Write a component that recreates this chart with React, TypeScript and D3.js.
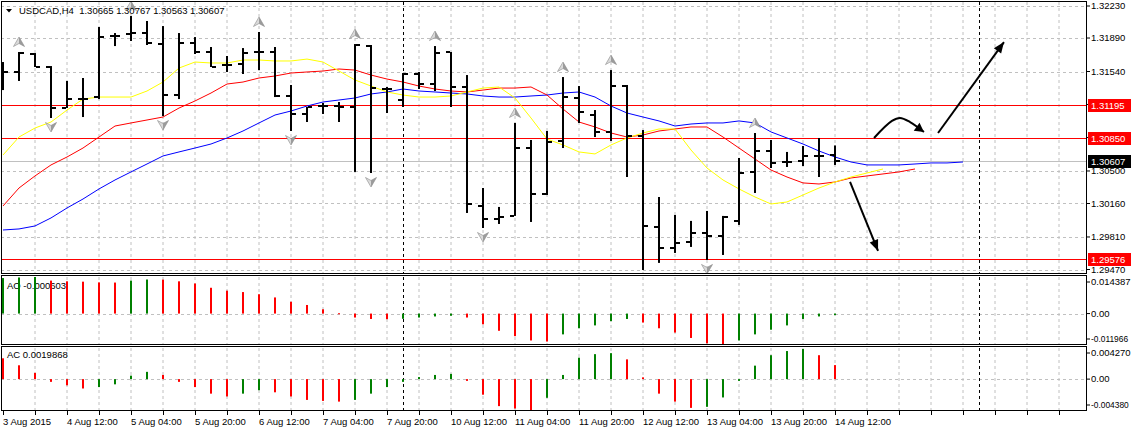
import React from 'react';
import * as d3 from 'd3';

// USDCAD H4, 3 Aug 20:00 .. 14 Aug 12:00 2015
const symbol = 'USDCAD,H4';
const lastQuote = ['1.30665', '1.30767', '1.30563', '1.30607'];

const opens = [
  1.31535, 1.31535, 1.31723, 1.31587, 1.31158, 1.31252, 1.31273, 1.31911, 1.31932, 1.31942,
  1.31827, 1.31294, 1.31838, 1.31744, 1.31608, 1.31618, 1.31744, 1.31744, 1.31284, 1.31096,
  1.31179, 1.31179, 1.31169, 1.31806, 1.31357, 1.31242, 1.31514, 1.31409, 1.31744, 1.31378,
  1.30134, 1.29998, 1.30030, 1.30740, 1.30260, 1.30814, 1.31263, 1.31085, 1.30908, 1.31388,
  1.30866, 1.29915, 1.29695, 1.29758, 1.29852, 1.29821, 1.29978, 1.30490, 1.30709, 1.30594,
  1.30605, 1.30657, 1.30665,
];
const highs = [
  1.31639, 1.31744, 1.31733, 1.31597, 1.31441, 1.31472, 1.32005, 1.31942, 1.32120, 1.32068,
  1.32015, 1.31942, 1.31900, 1.31796, 1.31702, 1.31785, 1.31953, 1.31796, 1.31399, 1.31169,
  1.31211, 1.31221, 1.31827, 1.31817, 1.31378, 1.31524, 1.31535, 1.31806, 1.31744, 1.31503,
  1.30322, 1.30124, 1.31002, 1.30824, 1.30918, 1.31482, 1.31388, 1.31137, 1.31555, 1.31399,
  1.30928, 1.30228, 1.30040, 1.29978, 1.30082, 1.30030, 1.30636, 1.30897, 1.30824, 1.30699,
  1.30761, 1.30845, 1.30767,
];
const lows = [
  1.31346, 1.31441, 1.31587, 1.31054, 1.31158, 1.31064, 1.31252, 1.31806, 1.31859, 1.31817,
  1.31075, 1.31252, 1.31723, 1.31587, 1.31535, 1.31514, 1.31555, 1.31273, 1.30918, 1.31012,
  1.31096, 1.31012, 1.30490, 1.30479, 1.31106, 1.31169, 1.31357, 1.31336, 1.31169, 1.30061,
  1.29904, 1.29946, 1.30030, 1.29967, 1.30249, 1.30740, 1.31002, 1.30855, 1.30814, 1.30437,
  1.29465, 1.29539, 1.29643, 1.29706, 1.29570, 1.29622, 1.29936, 1.30270, 1.30531, 1.30542,
  1.30552, 1.30437, 1.30563,
];
const closes = [
  1.31535, 1.31733, 1.31587, 1.31158, 1.31252, 1.31252, 1.31900, 1.31911, 1.31942, 1.31838,
  1.31294, 1.31838, 1.31744, 1.31587, 1.31608, 1.31733, 1.31744, 1.31284, 1.31096, 1.31169,
  1.31179, 1.31169, 1.31817, 1.31367, 1.31357, 1.31514, 1.31409, 1.31733, 1.31378, 1.30155,
  1.29998, 1.30019, 1.30740, 1.30260, 1.30803, 1.31273, 1.31117, 1.30908, 1.31388, 1.30866,
  1.29925, 1.29695, 1.29748, 1.29852, 1.29821, 1.30019, 1.30479, 1.30709, 1.30584, 1.30594,
  1.30657, 1.30657, 1.30607,
];

// Alligator lines as plotted (already shifted forward)
const lips = [
  1.30667, 1.30855, 1.30949, 1.31012, 1.31137, 1.31252, 1.31273, 1.31273, 1.31273, 1.31336,
  1.31430, 1.31576, 1.31639, 1.31629, 1.31629, 1.31660, 1.31660, 1.31650, 1.31650, 1.31670,
  1.31639, 1.31545, 1.31451, 1.31388, 1.31326, 1.31294, 1.31273, 1.31273, 1.31284, 1.31326,
  1.31367, 1.31378, 1.31263, 1.31054, 1.30834, 1.30772, 1.30699, 1.30678, 1.30772, 1.30845,
  1.30897, 1.30939, 1.30939, 1.30719, 1.30531, 1.30406, 1.30312, 1.30228, 1.30155, 1.30176,
  1.30249, 1.30322, 1.30385, 1.30437, 1.30479, 1.30521,
];
const teeth = [
  1.30134, 1.30322, 1.30448, 1.30563, 1.30646, 1.30740, 1.30855, 1.30970, 1.31002, 1.31033,
  1.31064, 1.31158, 1.31232, 1.31315, 1.31409, 1.31430, 1.31472, 1.31493, 1.31524, 1.31535,
  1.31545, 1.31566, 1.31555, 1.31503, 1.31461, 1.31430, 1.31388, 1.31357, 1.31336, 1.31326,
  1.31346, 1.31367, 1.31367, 1.31378, 1.31294, 1.31148, 1.31012, 1.30960, 1.30897, 1.30855,
  1.30876, 1.30918, 1.30939, 1.30960, 1.30960, 1.30855, 1.30740, 1.30625, 1.30510, 1.30437,
  1.30375, 1.30364, 1.30385, 1.30427, 1.30448, 1.30469, 1.30490, 1.30521,
];
const jaw = [
  1.29883, 1.29894, 1.29925, 1.30009, 1.30113, 1.30207, 1.30312, 1.30406, 1.30490, 1.30573,
  1.30657, 1.30699, 1.30740, 1.30782, 1.30845, 1.30918, 1.31002, 1.31085, 1.31127, 1.31179,
  1.31221, 1.31242, 1.31263, 1.31305, 1.31326, 1.31357, 1.31336, 1.31326, 1.31315, 1.31305,
  1.31284, 1.31273, 1.31273, 1.31284, 1.31294, 1.31315, 1.31326, 1.31273, 1.31179, 1.31106,
  1.31064, 1.31023, 1.30970, 1.30991, 1.31002, 1.31002, 1.31023, 1.31002, 1.30908, 1.30845,
  1.30782, 1.30709, 1.30646, 1.30594, 1.30563, 1.30563, 1.30563, 1.30573, 1.30584, 1.30584,
  1.30594,
];

const upFractals = [1, 8, 16, 22, 27, 32, 35, 38, 47];
const downFractals = [3, 10, 18, 23, 30, 40, 44];

const levels = [1.31195, 1.3085, 1.29576];
const currentPrice = 1.30607;
const priceTicks = [1.3223, 1.3189, 1.3154, 1.31195, 1.3085, 1.305, 1.3016, 1.2981, 1.2947];
const priceRange = [1.2947, 1.3223];

const aoBefore = 0.0132;
const aoValues = [
  0.01396, 0.0142, 0.01439, 0.01297, 0.01269, 0.01255, 0.01227, 0.0122, 0.01297, 0.0134,
  0.01335, 0.01269, 0.01184, 0.01015, 0.00902, 0.00846, 0.00761, 0.00635, 0.00465, 0.00338,
  0.00169, 0.00014, -0.00155, -0.00212, -0.0022, -0.00205, -0.00155, -0.00113, -0.00085, -0.00155,
  -0.00423, -0.00677, -0.00888, -0.01058, -0.011, -0.00818, -0.00578, -0.00465, -0.00296, -0.00212,
  -0.00353, -0.00578, -0.00747, -0.00959, -0.0117, -0.011966, -0.01058, -0.00818, -0.00635, -0.00465,
  -0.00212, -0.00113, -0.000603,
];
const aoRange = [-0.011966, 0.014387];

const acBefore = 0.0035;
const acValues = [
  0.00295, 0.00196, 0.00088, -0.00039, -0.00088, -0.00133, -0.00113, -0.00074, 0.00049, 0.00103,
  0.00059, -0.00039, -0.00113, -0.00206, -0.00246, -0.00206, -0.00157, -0.00187, -0.00246, -0.00295,
  -0.00309, -0.00319, -0.00295, -0.00206, -0.00113, -0.00039, 0.00029, 0.00059, 0.00074, -0.00025,
  -0.00221, -0.00383, -0.00417, -0.00438, -0.00265, 0.00059, 0.00304, 0.00354, 0.00368, 0.0028,
  0.00025, -0.00206, -0.00319, -0.00408, -0.00393, -0.0026, -0.00025, 0.00191, 0.00339, 0.00398,
  0.00427, 0.00339, 0.0019868,
];
const acRange = [-0.00438, 0.00427];

const timeLabels = [
  '3 Aug 2015', '4 Aug 12:00', '5 Aug 04:00', '5 Aug 20:00', '6 Aug 12:00', '7 Aug 04:00',
  '7 Aug 20:00', '10 Aug 12:00', '11 Aug 04:00', '11 Aug 20:00', '12 Aug 12:00',
  '13 Aug 04:00', '13 Aug 20:00', '14 Aug 12:00',
];
const separators = [25, 61];

// hand drawn scenario arrows, [bar, price]
const arrowUp: [number, number][] = [[58.44, 1.30897], [62.56, 1.31848]];
const arrowHook: [number, number][] = [[54.44, 1.30845], [55.56, 1.31023], [56.06, 1.31054], [56.69, 1.31012], [57.56, 1.30908]];
const arrowDown: [number, number][] = [[52.94, 1.30385], [54.69, 1.29664]];

const W = 1131;
const H = 430;
const L = 1;
const R = 1086;
const FONT = "Tahoma, 'Liberation Sans', Arial, sans-serif";
const GREEN = '#008000';
const RED = '#ff0000';

const x = d3.scaleLinear().domain([0, 52]).range([3, 835]);
const y = d3.scaleLinear().domain(priceRange).range([269.5, 5.5]);
const yAO = d3.scaleLinear().domain(aoRange).range([344, 277]);
const yAC = d3.scaleLinear().domain(acRange).range([410, 349]);

function headPath(p0: number[], p1: number[], len = 10, half = 4.5) {
  const dx = p1[0] - p0[0];
  const dy = p1[1] - p0[1];
  const d = Math.hypot(dx, dy);
  const ux = dx / d;
  const uy = dy / d;
  const bx = p1[0] - ux * len;
  const by = p1[1] - uy * len;
  return `M${p1[0]},${p1[1]}L${bx - uy * half},${by + ux * half}L${bx + uy * half},${by - ux * half}Z`;
}

function HandArrow({ pts, curved }: { pts: [number, number][]; curved?: boolean }) {
  const px = pts.map(([b, p]) => [x(b), y(p)] as [number, number]);
  const line = d3.line().curve(curved ? d3.curveCatmullRom : d3.curveLinear);
  const n = px.length;
  return (
    <g>
      <path d={line(px) || ''} fill="none" stroke="#000" strokeWidth={2} />
      <path d={headPath(px[n - 2], px[n - 1], curved ? 9 : 11, curved ? 5 : 4.5)} fill="#000" />
    </g>
  );
}

function Fractal({ cx, cy, up }: { cx: number; cy: number; up: boolean }) {
  const s = up ? 1 : -1;
  return (
    <g transform={`translate(${cx},${cy}) scale(1,${s})`}>
      <path d="M0,-5 L5.5,4.5 L0,1.5 Z" fill="#9c9c9c" />
      <path d="M0,-5 L-5.5,4.5 L0,1.5 Z" fill="#dadada" />
      <path d="M0,-5 L5.5,4.5 L0,1.5 L-5.5,4.5 Z" fill="none" stroke="#8a8a8a" strokeWidth={0.6} />
    </g>
  );
}

export default function App() {
  const gridX = d3.range(2, 67, 2).map((i) => x(i));
  const lineGen = d3
    .line<number>()
    .x((_, i) => x(i))
    .y((d) => y(d));

  const panels = [
    { top: 2, bottom: 273 },
    { top: 277, bottom: 344 },
    { top: 348, bottom: 410 },
  ];

  const histo = (vals: number[], before: number, sc: d3.ScaleLinear<number, number>) =>
    vals.map((v, i) => {
      const prev = i === 0 ? before : vals[i - 1];
      const y0 = sc(0);
      const y1 = sc(v);
      return (
        <rect
          key={i}
          x={x(i) - 1}
          y={Math.min(y0, y1)}
          width={2}
          height={Math.max(1, Math.abs(y1 - y0))}
          fill={v > prev ? GREEN : RED}
        />
      );
    });

  const sideLabel = (
    v: number,
    txt: string,
    top: number,
    bottom: number,
    sc: (n: number) => number,
    fs = 9.5
  ) => {
    const yy = Math.max(top + 6, Math.min(bottom - 6, sc(v)));
    return (
      <g key={txt}>
        <line x1={R} x2={R + 4} y1={yy} y2={yy} stroke="#000" />
        <text x={R + 5} y={yy} dy="0.35em" fontSize={fs} fill="#000">
          {txt}
        </text>
      </g>
    );
  };

  return (
    <svg
      width={W}
      height={H}
      style={{ position: 'absolute', left: 0, top: 0, fontFamily: FONT }}
    >
      <defs>
        <clipPath id="mainClip">
          <rect x={L + 1} y={2} width={R - L - 1} height={271} />
        </clipPath>
      </defs>
      <rect width={W} height={H} fill="#fff" />

      {/* grid */}
      {panels.map((p, k) =>
        gridX.map((gx, i) => (
          <line key={`g${k}-${i}`} x1={gx} x2={gx} y1={p.top} y2={p.bottom} stroke="#c0c0c0" strokeDasharray="3,3" />
        ))
      )}
      {priceTicks.map((t, i) => (
        <line key={`h${i}`} x1={L} x2={R} y1={Math.round(y(t)) + 0.5} y2={Math.round(y(t)) + 0.5} stroke="#c0c0c0" strokeDasharray="3,3" />
      ))}
      <line x1={L} x2={R} y1={Math.round(yAO(0)) + 0.5} y2={Math.round(yAO(0)) + 0.5} stroke="#c0c0c0" strokeDasharray="3,3" />
      <line x1={L} x2={R} y1={Math.round(yAC(0)) + 0.5} y2={Math.round(yAC(0)) + 0.5} stroke="#c0c0c0" strokeDasharray="3,3" />

      {/* period separators */}
      {separators.map((s) =>
        panels.map((p, k) => (
          <line key={`s${s}-${k}`} x1={x(s) + 0.5} x2={x(s) + 0.5} y1={p.top} y2={p.bottom} stroke="#000" strokeDasharray="3,3" />
        ))
      )}

      <g clipPath="url(#mainClip)">
        {/* horizontal levels */}
        <line x1={L} x2={R} y1={Math.round(y(currentPrice)) + 0.5} y2={Math.round(y(currentPrice)) + 0.5} stroke="#c0c0c0" />
        {levels.map((lv) => (
          <line key={lv} x1={L} x2={R} y1={Math.round(y(lv)) + 0.5} y2={Math.round(y(lv)) + 0.5} stroke={RED} />
        ))}

        {/* alligator */}
        <path d={lineGen(jaw) || ''} fill="none" stroke="#0000ff" strokeWidth={1} />
        <path d={lineGen(teeth) || ''} fill="none" stroke={RED} strokeWidth={1} />
        <path d={lineGen(lips) || ''} fill="none" stroke="#ffff00" strokeWidth={1} />

        {/* OHLC bars */}
        {opens.map((o, i) => {
          const cx = x(i);
          return (
            <g key={`b${i}`} fill="#000">
              <rect x={cx - 1} y={y(highs[i])} width={2} height={Math.max(1, y(lows[i]) - y(highs[i]))} />
              <rect x={cx - 5} y={Math.round(y(o)) - 1} width={4} height={2} />
              <rect x={cx + 1} y={Math.round(y(closes[i])) - 1} width={4} height={2} />
            </g>
          );
        })}

        {upFractals.map((i) => (
          <Fractal key={`u${i}`} cx={x(i)} cy={y(highs[i]) - 10} up />
        ))}
        {downFractals.map((i) => (
          <Fractal key={`d${i}`} cx={x(i)} cy={y(lows[i]) + 9} up={false} />
        ))}

        <HandArrow pts={arrowUp} />
        <HandArrow pts={arrowHook} curved />
        <HandArrow pts={arrowDown} />
      </g>

      {/* header */}
      <path d="M6,9 L12,9 L9,12.5 Z" fill="#000" />
      <text x={19} y={14} fontSize={9.5} fill="#000" style={{ whiteSpace: 'pre' }}>
        {`${symbol}  ${lastQuote.join(' ')}`}
      </text>

      {/* oscillators */}
      <text x={7} y={289} fontSize={9.5} fill="#000">{`AO ${aoValues[aoValues.length - 1].toFixed(6)}`}</text>
      {histo(aoValues, aoBefore, yAO)}
      <text x={7} y={358} fontSize={9.5} fill="#000">{`AC ${acValues[acValues.length - 1].toFixed(7)}`}</text>
      {histo(acValues, acBefore, yAC)}

      {/* frames */}
      <rect x={L + 0.5} y={1.5} width={R - L} height={272} fill="none" stroke="#000" />
      <rect x={L + 0.5} y={275.5} width={R - L} height={69} fill="none" stroke="#000" />
      <rect x={L + 0.5} y={346.5} width={R - L} height={64} fill="none" stroke="#000" />

      {/* price axis */}
      {priceTicks.map((t) => sideLabel(t, t.toFixed(5), 0, 280, y))}
      {levels.map((lv) => {
        const yy = Math.round(y(lv)) + 0.5;
        return (
          <g key={`lv${lv}`}>
            <rect x={R + 2} y={yy - 6.5} width={W - R - 2} height={13} fill={RED} />
            <text x={R + 5} y={yy} dy="0.35em" fontSize={9.5} fill="#fff">
              {lv.toFixed(5)}
            </text>
          </g>
        );
      })}
      <g>
        <rect x={R + 2} y={Math.round(y(currentPrice)) - 6} width={W - R - 2} height={13} fill="#000" />
        <text x={R + 5} y={Math.round(y(currentPrice)) + 0.5} dy="0.35em" fontSize={9.5} fill="#fff">
          {currentPrice.toFixed(5)}
        </text>
      </g>
      {sideLabel(aoRange[1], aoRange[1].toFixed(6), 276, 345, yAO)}
      {sideLabel(0, '0.00', 276, 345, yAO)}
      {sideLabel(aoRange[0], aoRange[0].toFixed(6), 276, 345, yAO, 8.4)}
      {sideLabel(acRange[1], acRange[1].toFixed(6), 347, 411, yAC)}
      {sideLabel(0, '0.00', 347, 411, yAC)}
      {sideLabel(acRange[0], acRange[0].toFixed(6), 347, 411, yAC, 8.4)}

      {/* time axis */}
      {d3.range(0, 67, 2).map((i) => (
        <line key={`t${i}`} x1={x(i) + 0.5} x2={x(i) + 0.5} y1={411} y2={415} stroke="#000" />
      ))}
      {timeLabels.map((lbl, k) => (
        <text key={lbl} x={x(k * 4)} y={425} fontSize={9.5} fill="#000">
          {lbl}
        </text>
      ))}
    </svg>
  );
}
